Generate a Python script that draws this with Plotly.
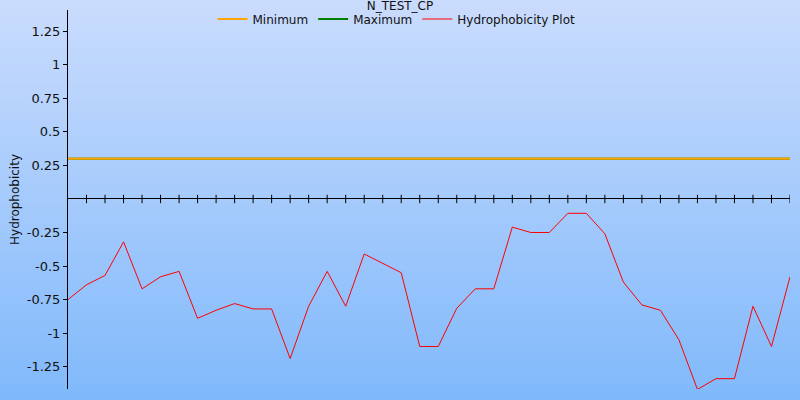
import plotly.graph_objects as go

# ---- data ----
positions = list(range(40))
hydrophobicity = [-0.75, -0.64, -0.57, -0.32, -0.67, -0.58, -0.54, -0.89, -0.83, -0.78,
                  -0.82, -0.82, -1.19, -0.80, -0.54, -0.80, -0.41, -0.48, -0.55, -1.10,
                  -1.10, -0.815, -0.67, -0.67, -0.21, -0.25, -0.25, -0.107, -0.107, -0.26,
                  -0.62, -0.79, -0.83, -1.05, -1.42, -1.34, -1.34, -0.80, -1.10, -0.58]
minimum_value = 0.3
maximum_value = 0.3
y_tick_vals = [1.25, 1.0, 0.75, 0.5, 0.25, -0.25, -0.5, -0.75, -1.0, -1.25]
y_tick_text = ["1.25", "1", "0.75", "0.5", "0.25", "-0.25", "-0.5", "-0.75", "-1", "-1.25"]
title_text = "N_TEST_CP"
y_title = "Hydrophobicity"

FONT = "DejaVu Sans"

fig = go.Figure()
fig.add_trace(go.Scatter(x=[positions[0], positions[-1]], y=[minimum_value, minimum_value],
                         mode="lines", name="Minimum",
                         line=dict(color="#ffa500", width=2), hoverinfo="skip"))
fig.add_trace(go.Scatter(x=[positions[0], positions[-1]], y=[maximum_value, maximum_value],
                         mode="lines", name="Maximum",
                         line=dict(color="#008000", width=2), hoverinfo="skip"))
# re-draw orange on top of green
fig.add_trace(go.Scatter(x=[positions[0], positions[-1]], y=[minimum_value, minimum_value],
                         mode="lines", showlegend=False,
                         line=dict(color="#ffa500", width=2), hoverinfo="skip"))
fig.add_trace(go.Scatter(x=positions, y=hydrophobicity, mode="lines",
                         name="Hydrophobicity Plot",
                         line=dict(color="#ff0000", width=1)))
# x-axis tick marks crossing the zero line
fig.add_trace(go.Scatter(x=positions[1:], y=[0] * (len(positions) - 1), mode="markers",
                         showlegend=False, hoverinfo="skip",
                         marker=dict(symbol="line-ns", size=6,
                                     line=dict(color="black", width=1))))

# gradient background
shapes = []
W, H = 800, 400
ml, mr, mt, mb = 68, 10, 10, 11
pw, ph = W - ml - mr, H - mt - mb
top = (202, 220, 253)
bot = (128, 185, 251)
n = 80
for i in range(n):
    t0 = i / n
    t1 = (i + 1) / n
    tm = (i + 0.5) / n
    c = tuple(round(top[k] + (bot[k] - top[k]) * tm) for k in range(3))
    py0 = t0 * H
    py1 = t1 * H
    shapes.append(dict(type="rect", xref="paper", yref="paper", layer="below",
                       x0=-ml / pw - 0.01, x1=(W - ml) / pw + 0.01,
                       y0=(H - mb - py1) / ph - 0.001, y1=(H - mb - py0) / ph + 0.001,
                       fillcolor="rgb(%d,%d,%d)" % c, line=dict(width=0)))

fig.update_layout(
    width=W, height=H,
    margin=dict(l=ml, r=mr, t=mt, b=mb, autoexpand=False),
    paper_bgcolor="rgba(0,0,0,0)",
    plot_bgcolor="rgba(0,0,0,0)",
    shapes=shapes,
    font=dict(family=FONT, size=12, color="#111"),
    title=dict(text=title_text, x=0.5, xanchor="center", y=0.996, yanchor="top",
               pad=dict(t=0, b=0),
               font=dict(family=FONT, size=12, color="#111")),
    legend=dict(orientation="h", x=0.455, xanchor="center", y=(389 - 19) / 379,
                yanchor="middle",
                bgcolor="rgba(0,0,0,0)", font=dict(family=FONT, size=12, color="#111"),
                itemwidth=30, tracegroupgap=0),
    showlegend=True,
    hovermode=False,
    xaxis=dict(range=[positions[0], positions[-1]], showgrid=False, zeroline=False,
               showticklabels=False, showline=False, ticks=""),
    yaxis=dict(range=[-1.417, 1.409], showgrid=False, zeroline=True,
               zerolinecolor="black", zerolinewidth=1,
               showline=True, linecolor="black", linewidth=1,
               ticks="outside", ticklen=4, tickcolor="black",
               tickvals=y_tick_vals, ticktext=y_tick_text,
               tickfont=dict(family=FONT, size=13, color="#111"),
               title=dict(text=y_title, font=dict(family=FONT, size=12, color="#111"),
                          standoff=4)),
)

fig.write_html("out.html", config={"displayModeBar": False},
               post_script="document.body.style.margin='0';document.body.style.overflow='hidden';")
